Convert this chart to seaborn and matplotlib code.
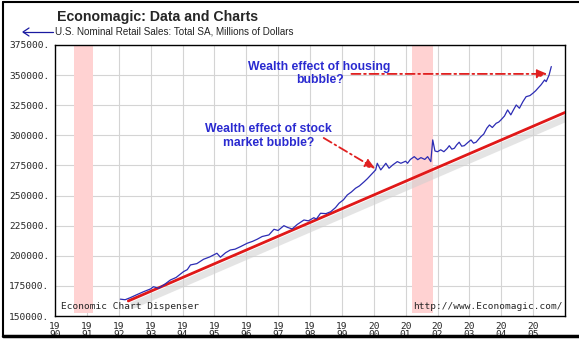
import matplotlib
matplotlib.use("Agg")
import matplotlib.pyplot as plt
import matplotlib.transforms as mtransforms
from matplotlib.lines import Line2D
from matplotlib.ticker import FuncFormatter
import seaborn as sns
import pandas as pd

# ---------------- data ----------------
sales_years = [1992.05, 1992.2, 1992.36, 1992.55, 1992.78, 1993.0, 1993.09, 1993.25, 1993.45, 1993.62,
               1993.8, 1994.03, 1994.15, 1994.25, 1994.45, 1994.66, 1994.85, 1995.08, 1995.19, 1995.35,
               1995.5, 1995.65, 1995.82, 1996.03, 1996.2, 1996.34, 1996.5, 1996.71, 1996.87, 1997.0,
               1997.18, 1997.3, 1997.44, 1997.6, 1997.81, 1997.95, 1998.12, 1998.2, 1998.33, 1998.5,
               1998.65, 1998.8, 1998.91, 1999.05, 1999.17, 1999.3, 1999.43, 1999.55, 1999.7, 1999.8,
               1999.91, 2000.06, 2000.11, 2000.22, 2000.3, 2000.38, 2000.48, 2000.6, 2000.74, 2000.85,
               2001.0, 2001.06, 2001.15, 2001.27, 2001.38, 2001.48, 2001.6, 2001.69, 2001.79, 2001.85,
               2001.92, 2002.0, 2002.1, 2002.2, 2002.3, 2002.37, 2002.45, 2002.53, 2002.6, 2002.68,
               2002.76, 2002.84, 2002.95, 2003.05, 2003.13, 2003.21, 2003.36, 2003.45, 2003.55, 2003.63,
               2003.72, 2003.84, 2003.92, 2003.99, 2004.1, 2004.2, 2004.3, 2004.38, 2004.47, 2004.57,
               2004.68, 2004.78, 2004.9, 2004.99, 2005.08, 2005.15, 2005.25, 2005.36, 2005.41, 2005.5,
               2005.57]
sales_values = [164000, 163500, 165200, 167500, 170200, 172500, 174300, 173000, 176500, 179900,
                182000, 186800, 188500, 192400, 193500, 197100, 199000, 202100, 198800, 202500,
                204800, 205500, 207600, 210400, 212000, 213700, 216000, 217300, 222000, 221000,
                225000, 223500, 222300, 226000, 229700, 229000, 231600, 230500, 235300, 235000,
                236600, 240000, 243600, 246500, 250500, 253000, 256100, 258000, 261500, 264000,
                267100, 271300, 276800, 271300, 274000, 276800, 272700, 275500, 278200, 276800,
                278500, 276800, 280000, 282300, 279800, 281500, 280000, 282300, 278200, 296200,
                287000, 286400, 288000, 286400, 289000, 291400, 288500, 289300, 292000, 294300,
                291000, 291400, 294000, 296200, 293500, 294300, 298900, 301000, 306000, 308600,
                306500, 310000, 311000, 312800, 316000, 321100, 317000, 321000, 325200, 322500,
                328000, 332100, 333000, 334900, 337000, 339100, 342000, 346000, 344600, 350000,
                357100]

trend_years = [1992.3, 2006.0]
trend_values = [162500, 319000]

recessions = [(1990.6, 1991.2), (2001.2, 2001.85)]

year_ticks = list(range(1990, 2006))
value_ticks = list(range(150000, 375001, 25000))

title = "Economagic: Data and Charts"
subtitle = "U.S. Nominal Retail Sales: Total SA, Millions of Dollars"
note1 = "Wealth effect of housing\nbubble?"
note2 = "Wealth effect of stock\nmarket bubble?"

sales = pd.DataFrame({"year": sales_years, "value": sales_values})
trend = pd.DataFrame({"year": trend_years, "value": trend_values})

# ---------------- figure ----------------
sns.set_style("white")
plt.rcParams["font.family"] = ["Liberation Sans", "DejaVu Sans"]

fig = plt.figure(figsize=(5.79, 3.41), dpi=100)
ax = fig.add_axes([55 / 579, 1 - 316 / 341, (565 - 55) / 579, (316 - 45) / 341])

ax.set_xlim(1990, 2006.0)
ax.set_ylim(150000, 375000)

# grid
for yr in year_ticks[1:]:
    ax.axvline(yr, color="#d4d4d4", lw=0.8, zorder=0)
for v in value_ticks[1:]:
    ax.axhline(v, color="#d4d4d4", lw=0.8, zorder=0)

# recessions
for a, b in recessions:
    ax.axvspan(a, b, ymin=0.012, ymax=1, color="#ffd2d2", lw=0, zorder=0.5)

# shadow of trend line
shadow = mtransforms.offset_copy(ax.transData, fig=fig, x=3, y=-5, units="dots")
ax.plot(trend_years, trend_values, color="#cfcfcf", lw=5, alpha=0.55,
        transform=shadow, zorder=1, solid_capstyle="butt")

sns.lineplot(data=trend, x="year", y="value", ax=ax, color="#e01818", lw=2.0,
             sort=False, estimator=None, zorder=3)
sns.lineplot(data=sales, x="year", y="value", ax=ax, color="#2c2cb4", lw=0.9,
             sort=False, estimator=None, zorder=4)

ax.set_xlabel("")
ax.set_ylabel("")

# ticks
ax.set_xticks(year_ticks)
ax.set_yticks(value_ticks)
ax.xaxis.set_major_formatter(FuncFormatter(lambda v, p: f"{int(round(v))}"[:2] + "\n" + f"{int(round(v))}"[2:]))
ax.yaxis.set_major_formatter(FuncFormatter(lambda v, p: f"{int(v)}."))
ax.tick_params(axis="both", direction="inout", length=6, width=0.8, color="black",
               labelsize=6.8, pad=1)
for lab in ax.get_xticklabels() + ax.get_yticklabels():
    lab.set_fontfamily("DejaVu Sans Mono")
for lab in ax.get_xticklabels():
    lab.set_linespacing(0.85)

for s in ax.spines.values():
    s.set_color("black")
    s.set_linewidth(1.0)

# in-plot texts
ax.text(0.012, 0.018, "Economic Chart Dispenser", transform=ax.transAxes,
        fontsize=6.8, family="DejaVu Sans Mono", va="bottom", ha="left")
ax.text(0.995, 0.018, "http://www.Economagic.com/", transform=ax.transAxes,
        fontsize=6.8, family="DejaVu Sans Mono", va="bottom", ha="right")

# annotations
txtcol = "#2a2ad0"
ax.text(1998.3, 351500, note1, ha="center", va="center", fontsize=8.8,
        fontweight="bold", color=txtcol, linespacing=1.15)
ax.text(1996.7, 299500, note2, ha="center", va="center", fontsize=8.8,
        fontweight="bold", color=txtcol, linespacing=1.15)

arrow_kw = dict(arrowstyle="-|>,head_length=0.6,head_width=0.25", color="#e02020",
                lw=1.3, linestyle=(0, (5, 2, 1, 2)), shrinkA=0, shrinkB=0)
ax.annotate("", xy=(2005.45, 351000), xytext=(1999.3, 351000), arrowprops=arrow_kw, zorder=5)
ax.annotate("", xy=(2000.05, 272300), xytext=(1998.43, 297800), arrowprops=arrow_kw, zorder=5)

# header
fig.text(57 / 579, 1 - 17 / 341, title, fontsize=10.2, fontweight="bold", va="center", ha="left")
fig.text(55 / 579, 1 - 32 / 341, subtitle, fontsize=7.1, va="center", ha="left", color="#222222")
fig.add_artist(Line2D([23 / 579, 53 / 579], [1 - 32 / 341, 1 - 32 / 341], color="#1a1aa0", lw=0.9))
fig.add_artist(Line2D([29 / 579, 23 / 579, 29 / 579],
                      [1 - 28 / 341, 1 - 32 / 341, 1 - 36 / 341],
                      color="#1a1aa0", lw=0.9))

# outer frame
fig.add_artist(Line2D([3 / 579, 3 / 579], [1 - 2 / 341, 1 - 336 / 341], color="black", lw=1.5))
fig.add_artist(Line2D([3 / 579, 1], [1 - 2 / 341, 1 - 2 / 341], color="black", lw=1.5))
fig.add_artist(Line2D([3 / 579, 1], [1 - 336 / 341, 1 - 336 / 341], color="black", lw=2.5))

fig.savefig("out.png", dpi=100)
